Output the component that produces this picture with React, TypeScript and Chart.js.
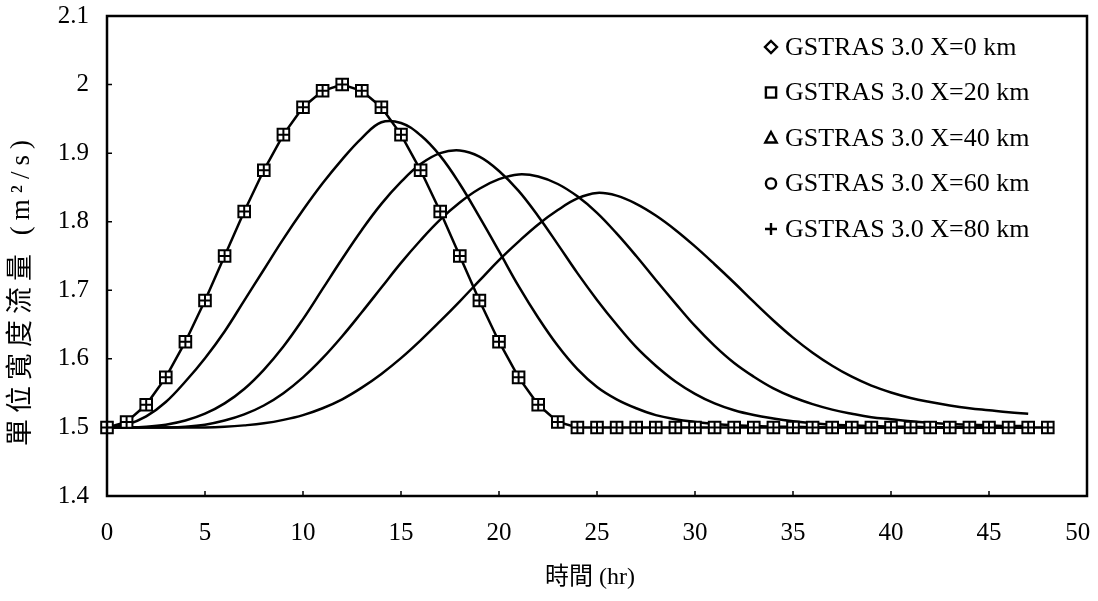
import React, { useEffect, useRef } from 'react';
import { Chart, registerables } from 'chart.js';

Chart.register(...registerables);

// Hourly time stamps of the inflow hydrograph (hr)
const inflowHours = [
  0, 1, 2, 3, 4, 5, 6, 7, 8, 9, 10, 11, 12, 13, 14, 15, 16, 17, 18, 19, 20, 21, 22, 23, 24,
  25, 26, 27, 28, 29, 30, 31, 32, 33, 34, 35, 36, 37, 38, 39, 40, 41, 42, 43, 44, 45, 46, 47, 48,
];

// Unit-width discharge at X = 0 km (m²/s)
const inflowX0 = [
  1.5, 1.508, 1.533, 1.573, 1.625, 1.685, 1.75, 1.815, 1.875, 1.927, 1.967, 1.991, 2.0,
  1.991, 1.967, 1.927, 1.875, 1.815, 1.75, 1.685, 1.625, 1.573, 1.533, 1.508, 1.5,
  1.5, 1.5, 1.5, 1.5, 1.5, 1.5, 1.5, 1.5, 1.5, 1.5, 1.5, 1.5, 1.5, 1.5, 1.5, 1.5, 1.5,
  1.5, 1.5, 1.5, 1.5, 1.5, 1.5, 1.5,
];

// Time stamps of the routed hydrographs (hr)
const routedHours = [
  0, 1, 2, 3, 4, 5, 6, 7, 8, 9, 10, 11, 12, 13, 14, 15, 16, 17, 18, 19, 20, 21, 22, 23, 24,
  25, 26, 27, 28, 29, 30, 31, 32, 33, 34, 35, 36, 37, 38, 39, 40, 41, 42, 43, 44, 45, 46, 47,
];

const routedX20 = [
  1.5, 1.504, 1.516, 1.537, 1.567, 1.601, 1.64, 1.685, 1.73, 1.775, 1.817, 1.856, 1.891,
  1.922, 1.945, 1.944, 1.926, 1.896, 1.855, 1.807, 1.757, 1.706, 1.66, 1.619, 1.585,
  1.559, 1.541, 1.528, 1.518, 1.512, 1.508, 1.505, 1.503, 1.502, 1.501, 1.501, 1.5, 1.5,
  1.5, 1.5, 1.5, 1.5, 1.5, 1.5, 1.5, 1.5, 1.5, 1.5,
];

const routedX40 = [
  1.5, 1.5, 1.501, 1.504, 1.51, 1.52, 1.535, 1.556, 1.584, 1.618, 1.658, 1.702, 1.746,
  1.788, 1.826, 1.858, 1.884, 1.9, 1.904, 1.895, 1.874, 1.845, 1.808, 1.767, 1.725,
  1.686, 1.65, 1.617, 1.59, 1.567, 1.549, 1.535, 1.525, 1.518, 1.513, 1.509, 1.506, 1.504,
  1.503, 1.502, 1.501, 1.501, 1.5, 1.5, 1.5, 1.5, 1.5, 1.5,
];

const routedX60 = [
  1.5, 1.5, 1.5, 1.5, 1.501, 1.504, 1.51, 1.519, 1.532, 1.55, 1.573, 1.601, 1.633,
  1.668, 1.704, 1.74, 1.773, 1.803, 1.828, 1.848, 1.862, 1.869, 1.866, 1.855, 1.837,
  1.813, 1.783, 1.75, 1.715, 1.681, 1.648, 1.619, 1.594, 1.574, 1.557, 1.544, 1.534, 1.526,
  1.52, 1.515, 1.512, 1.509, 1.507, 1.505, 1.504, 1.503, 1.502, 1.502,
];

const routedX80 = [
  1.5, 1.5, 1.5, 1.5, 1.5, 1.5, 1.501, 1.503, 1.506, 1.511, 1.518, 1.528, 1.541,
  1.558, 1.578, 1.601, 1.627, 1.655, 1.684, 1.714, 1.744, 1.771, 1.796, 1.817, 1.834,
  1.842, 1.838, 1.826, 1.809, 1.788, 1.764, 1.738, 1.711, 1.683, 1.656, 1.631, 1.609, 1.59,
  1.574, 1.561, 1.551, 1.543, 1.537, 1.532, 1.528, 1.525, 1.522, 1.52,
];

const xTicks = [0, 5, 10, 15, 20, 25, 30, 35, 40, 45, 50];
const yTicks = [1.4, 1.5, 1.6, 1.7, 1.8, 1.9, 2.0, 2.1];

const xTitle = '時間 (hr)';
const yTitle = '單位寬度流量 (m²/s)';

const legendLabels = [
  'GSTRAS 3.0 X=0 km',
  'GSTRAS 3.0 X=20 km',
  'GSTRAS 3.0 X=40 km',
  'GSTRAS 3.0 X=60 km',
  'GSTRAS 3.0 X=80 km',
];
const legendSymbols = ['diamond', 'square', 'triangle', 'circle', 'plus'];

const SERIF = '"Liberation Serif", "Times New Roman", "Noto Sans CJK TC", serif';

const toPoints = (xs: number[], ys: number[]) => xs.map((x, i) => ({ x, y: ys[i] }));

function drawSymbol(ctx: CanvasRenderingContext2D, kind: string, x: number, y: number, s: number) {
  ctx.beginPath();
  if (kind === 'diamond') {
    ctx.moveTo(x, y - s);
    ctx.lineTo(x + s, y);
    ctx.lineTo(x, y + s);
    ctx.lineTo(x - s, y);
    ctx.closePath();
  } else if (kind === 'square') {
    ctx.rect(x - s * 0.85, y - s * 0.85, s * 1.7, s * 1.7);
  } else if (kind === 'triangle') {
    ctx.moveTo(x, y - s);
    ctx.lineTo(x + s * 0.95, y + s * 0.75);
    ctx.lineTo(x - s * 0.95, y + s * 0.75);
    ctx.closePath();
  } else if (kind === 'circle') {
    ctx.arc(x, y, s * 0.85, 0, Math.PI * 2);
  } else {
    ctx.moveTo(x - s, y);
    ctx.lineTo(x + s, y);
    ctx.moveTo(x, y - s);
    ctx.lineTo(x, y + s);
    ctx.stroke();
    return;
  }
  ctx.fillStyle = '#fff';
  ctx.fill();
  ctx.stroke();
}

// Frame around the plot area and short inward tick marks
const frameTicks = {
  id: 'frameTicks',
  afterDatasetsDraw(chart: any) {
    const { ctx, chartArea: a, scales } = chart;
    ctx.save();
    ctx.strokeStyle = '#000';
    ctx.lineWidth = 1.5;
    ctx.beginPath();
    xTicks.forEach((v) => {
      const px = scales.x.getPixelForValue(v);
      if (px > a.left + 2 && px < a.right - 2) {
        ctx.moveTo(px, a.bottom);
        ctx.lineTo(px, a.bottom - 5);
      }
    });
    yTicks.forEach((v) => {
      const py = scales.y.getPixelForValue(v);
      if (py > a.top + 2 && py < a.bottom - 2) {
        ctx.moveTo(a.left, py);
        ctx.lineTo(a.left + 5, py);
      }
    });
    ctx.stroke();
    ctx.lineWidth = 2.5;
    ctx.strokeRect(a.left, a.top, a.right - a.left, a.bottom - a.top);
    ctx.restore();
  },
};

// Axis titles and the legend inside the upper-right part of the plot area
const annotations = {
  id: 'annotations',
  afterDraw(chart: any) {
    const { ctx } = chart;
    ctx.save();
    ctx.fillStyle = '#000';
    ctx.textAlign = 'center';
    ctx.textBaseline = 'middle';

    ctx.font = `24px ${SERIF}`;
    ctx.fillText(xTitle, 590, 578);

    ctx.save();
    ctx.translate(22, 290);
    ctx.rotate(-Math.PI / 2);
    ctx.font = `27px ${SERIF}`;
    (ctx as any).letterSpacing = '6px';
    ctx.fillText(yTitle, 0, 0);
    ctx.restore();

    ctx.textAlign = 'left';
    ctx.strokeStyle = '#000';
    ctx.lineWidth = 2.4;
    ctx.font = `26px ${SERIF}`;
    legendLabels.forEach((label, i) => {
      const y = 47 + i * 45.5;
      drawSymbol(ctx, legendSymbols[i], 771, y, 6);
      ctx.fillStyle = '#000';
      ctx.fillText(label, 785, y + 1);
    });
    ctx.restore();
  },
};

export default function App() {
  const canvasRef = useRef<HTMLCanvasElement | null>(null);

  useEffect(() => {
    const canvas = canvasRef.current;
    if (!canvas) return;
    const inflow = toPoints(inflowHours, inflowX0);
    const lineStyle = {
      borderColor: '#000',
      borderWidth: 2.5,
      pointRadius: 0,
      fill: false,
      tension: 0.4,
      order: 10,
    };
    const chart = new Chart(canvas, {
      type: 'line',
      data: {
        datasets: [
          { label: 'X=0 line', data: inflow, ...lineStyle, tension: 0 },
          { label: 'X=20 line', data: toPoints(routedHours, routedX20), ...lineStyle },
          { label: 'X=40 line', data: toPoints(routedHours, routedX40), ...lineStyle },
          { label: 'X=60 line', data: toPoints(routedHours, routedX60), ...lineStyle },
          { label: 'X=80 line', data: toPoints(routedHours, routedX80), ...lineStyle },
          {
            label: legendLabels[1],
            data: inflow,
            showLine: false,
            pointStyle: 'rect',
            pointRadius: 8.2,
            pointBorderWidth: 2,
            pointBorderColor: '#000',
            pointBackgroundColor: '#fff',
            clip: false,
            order: 2,
          },
          {
            label: legendLabels[4],
            data: inflow,
            showLine: false,
            pointStyle: 'cross',
            pointRadius: 5.8,
            pointBorderWidth: 2,
            pointBorderColor: '#000',
            clip: false,
            order: 1,
          },
        ],
      },
      options: {
        responsive: false,
        animation: false,
        events: [],
        layout: { padding: { top: 16, right: 11, left: 0, bottom: 0 } },
        plugins: {
          legend: { display: false },
          tooltip: { enabled: false },
        },
        scales: {
          x: {
            type: 'linear',
            min: 0,
            max: 50,
            afterBuildTicks: (s: any) => {
              s.ticks = xTicks.map((v) => ({ value: v }));
            },
            afterFit: (s: any) => {
              s.height = 105;
              s.paddingLeft = 0;
              s.paddingRight = 0;
            },
            grid: { display: false, drawTicks: false },
            border: { display: false },
            ticks: {
              color: '#000',
              padding: 22,
              maxRotation: 0,
              font: { family: SERIF, size: 25 },
              // the last label is padded so it stays inside the canvas
              callback: (v: any) => (Number(v) === 50 ? '50\u00a0\u00a0\u00a0' : String(v)),
            },
          },
          y: {
            type: 'linear',
            min: 1.4,
            max: 2.1,
            afterBuildTicks: (s: any) => {
              s.ticks = yTicks.map((v) => ({ value: v }));
            },
            afterFit: (s: any) => {
              s.width = 107;
              s.paddingTop = 0;
              s.paddingBottom = 0;
            },
            grid: { display: false, drawTicks: false },
            border: { display: false },
            ticks: {
              color: '#000',
              padding: 18,
              font: { family: SERIF, size: 25 },
              callback: (v: any) => String(Math.round(Number(v) * 10) / 10),
            },
          },
        },
      },
      plugins: [frameTicks, annotations],
    });
    return () => chart.destroy();
  }, []);

  return (
    <div style={{ position: 'absolute', left: 0, top: 0, width: 1098, height: 601, background: '#fff' }}>
      <canvas ref={canvasRef} width={1098} height={601} style={{ display: 'block' }} />
    </div>
  );
}
